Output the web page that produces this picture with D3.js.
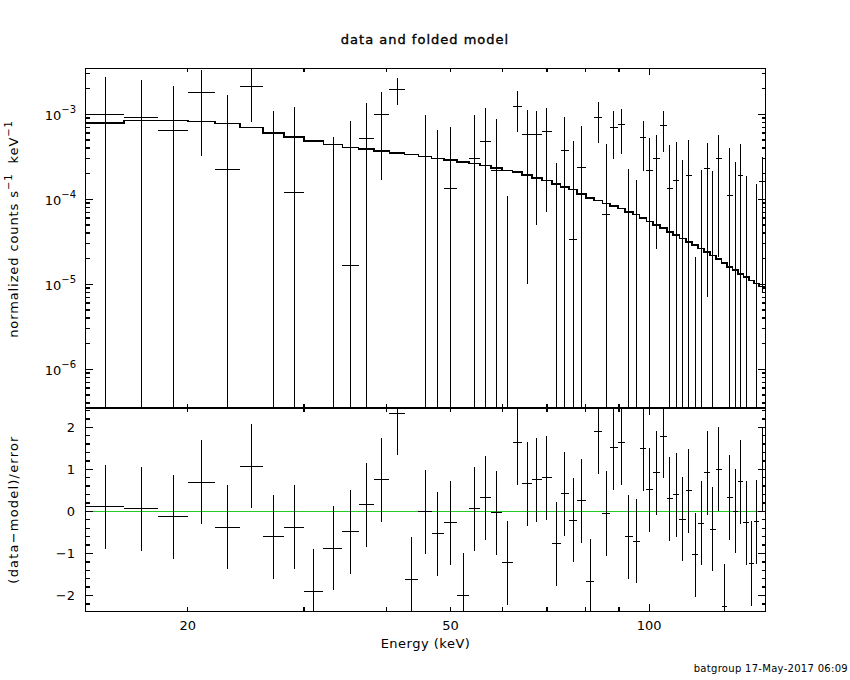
<!DOCTYPE html>
<html>
<head>
<meta charset="utf-8">
<script src="https://cdn.jsdelivr.net/npm/d3@7"></script>
<style>
  body { margin: 0; background: #fff; }
  svg { display: block; }
  text { font-family: "DejaVu Sans", "Liberation Sans", sans-serif; fill: #000; }
</style>
</head>
<body>
<svg id="chart" width="850" height="680"></svg>
<script>
// Energy bin edges (keV), 59 bins
const edges = [14, 16, 18, 20, 22, 24, 26, 28, 30, 32.1, 34.3, 36.3, 38.3, 40.4, 42.6, 44.7, 46.8, 48.9,
  51.2, 53.3, 55.4, 57.6, 59.8, 62.1, 64.2, 66.4, 68.8, 71.2, 73.4, 75.6, 77.8, 80.2, 82.5, 84.9, 87.2, 89.6,
  91.9, 94.4, 96.7, 99.0, 101.4, 103.8, 106.3, 108.7, 111.1, 113.6, 116.1, 118.6, 121.1, 123.6, 126.2, 128.7,
  131.1, 133.7, 136.3, 138.9, 141.5, 144.0, 146.7, 150];

// normalized counts s^-1 keV^-1 (negative = below plot)
const rate = [1.0e-3, 9.2e-4, 6.5e-4, 1.82e-3, 2.25e-4, 2.13e-3, -1.4e-4, 1.21e-4, -1.4e-3, -3.1e-4,
  1.67e-5, 5.17e-4, 1.0e-3, 1.97e-3, -8.0e-4, 3.15e-4, -9.2e-5, 1.35e-4, -9.25e-4, 3.03e-4,
  4.81e-4, 2.2e-4, -3.9e-4, 1.25e-3, 5.7e-4, 5.7e-4, 6.3e-4, -2.35e-4, 3.77e-4, 3.38e-5,
  2.38e-4, -6.4e-4, 9.2e-4, 6.7e-5, 6.9e-4, 7.48e-4, -1.66e-4, -1.9e-4, 5.26e-4, 2.16e-4,
  2.98e-4, 7.28e-4, 1.32e-4, 1.64e-4, -2.6e-5, 1.88e-4, -2.39e-4, -4.9e-5, 2.33e-4, -1.25e-4,
  2.98e-4, -5.47e-4, 1.12e-4, 1.5e-5, 1.92e-4, -5.3e-5, -2.99e-4, -3.7e-5, 1.6e-4];

const rateErr = [1.75e-3, 1.59e-3, 1.5e-3, 1.5e-3, 1.46e-3, 1.31e-3, 1.23e-3, 1.1e-3, 1.0e-3, 8.5e-4,
  8.17e-4, 8.4e-4, 8.3e-4, 7.0e-4, 7.0e-4, 6.75e-4, 7.45e-4, 5.75e-4, 6.0e-4, 6.9e-4,
  7.1e-4, 6.6e-4, 5.0e-4, 6.3e-4, 5.6e-4, 5.2e-4, 5.6e-4, 5.0e-4, 5.5e-4, 4.5e-4,
  4.9e-4, 4.5e-4, 4.6e-4, 3.8e-4, 3.9e-4, 4.1e-4, 3.95e-4, 3.6e-4, 3.1e-4, 3.1e-4,
  2.72e-4, 3.7e-4, 3.0e-4, 3.08e-4, 3.18e-4, 3.15e-4, 2.6e-4, 2.68e-4, 2.26e-4, 3.42e-4,
  2.77e-4, 2.5e-4, 2.9e-4, 2.6e-4, 2.59e-4, 2.41e-4, 2.5e-4, 1.9e-4, 1.52e-4];

// folded model per bin
const model = [7.84e-4, 8.41e-4, 8.41e-4, 8.18e-4, 7.75e-4, 6.96e-4, 5.97e-4, 5.41e-4, 4.85e-4, 4.39e-4,
  4.05e-4, 3.87e-4, 3.67e-4, 3.51e-4, 3.35e-4, 3.17e-4, 3.03e-4, 2.88e-4, 2.75e-4, 2.63e-4,
  2.49e-4, 2.33e-4, 2.19e-4, 2.08e-4, 1.92e-4, 1.78e-4, 1.66e-4, 1.51e-4, 1.40e-4, 1.30e-4,
  1.16e-4, 1.04e-4, 9.7e-5, 8.9e-5, 8.3e-5, 7.75e-5, 7.1e-5, 6.6e-5, 6.0e-5, 5.5e-5,
  5.0e-5, 4.6e-5, 4.1e-5, 3.77e-5, 3.44e-5, 3.15e-5, 2.88e-5, 2.62e-5, 2.40e-5, 2.19e-5,
  1.97e-5, 1.77e-5, 1.60e-5, 1.46e-5, 1.33e-5, 1.22e-5, 1.11e-5, 1.02e-5, 9.4e-6];

// (data-model)/error
const resid = [0.11, 0.06, -0.13, 0.69, -0.38, 1.08, -0.60, -0.38, -1.90, -0.88,
  -0.48, 0.16, 0.75, 2.34, -1.62, -0.01, -0.53, -0.27, -2.00, 0.06,
  0.32, -0.03, -1.22, 1.63, 0.66, 0.75, 0.80, -0.77, 0.42, -0.21,
  0.25, -1.66, 1.90, -0.05, 1.51, 1.63, -0.60, -0.71, 1.49, 0.51,
  0.92, 1.79, 0.30, 0.40, -0.19, 0.49, -1.03, -0.28, 0.92, -0.43,
  1.00, -2.26, 0.33, 0.00, 0.71, -0.27, -1.24, -0.25, 1.00];

const xTickLabels = [20, 50, 100];
const yTopDecades = [-6, -5, -4, -3];
const yResLabels = [-2, -1, 0, 1, 2];

const pLeft = 85.5, pRight = 765.5, pTop = 68, pMid = 408, pBottom = 611;
const yMin = 3.5e-7, yMax = 3.5e-3;

const svg = d3.select('#chart');
svg.append('rect').attr('width', 850).attr('height', 680).attr('fill', '#fff');

const x = d3.scaleLog().domain([14, 150]).range([pLeft, pRight]);
const yTop = d3.scaleLog().domain([yMin, yMax]).range([pMid, pTop]).clamp(true);
const yRes = d3.scaleLinear().domain([-2.37, 2.46]).range([pBottom, pMid]).clamp(true);
const yT = v => (v > 0 ? yTop(v) : pMid);

const bins = rate.map((r, i) => ({
  lo: edges[i], hi: edges[i + 1], c: (edges[i] + edges[i + 1]) / 2,
  r, e: rateErr[i], m: model[i], d: resid[i]
}));

const g = svg.append('g')
  .attr('shape-rendering', 'crispEdges')
  .attr('stroke', '#000')
  .attr('fill', 'none');

// Top panel: data error bars
bins.forEach(b => {
  if (b.r + b.e > yMin) {
    g.append('line')
      .attr('x1', x(b.c)).attr('x2', x(b.c))
      .attr('y1', yT(b.r - b.e)).attr('y2', yT(b.r + b.e))
      .attr('stroke-width', 1);
  }
  if (b.r >= yMin && b.r <= yMax) {
    g.append('line')
      .attr('x1', x(b.lo)).attr('x2', x(b.hi))
      .attr('y1', yTop(b.r)).attr('y2', yTop(b.r))
      .attr('stroke-width', 1);
  }
});

// Folded model, stepped
const steps = [];
bins.forEach(b => { steps.push([b.lo, b.m]); steps.push([b.hi, b.m]); });
g.append('path')
  .attr('d', d3.line().x(d => x(d[0])).y(d => yTop(d[1]))(steps))
  .attr('stroke-width', 1.6);

// Bottom panel: zero line and residuals
g.append('line')
  .attr('x1', pLeft).attr('x2', pRight)
  .attr('y1', yRes(0)).attr('y2', yRes(0))
  .attr('stroke', '#22cc22').attr('stroke-width', 1);

bins.forEach(b => {
  g.append('line')
    .attr('x1', x(b.c)).attr('x2', x(b.c))
    .attr('y1', yRes(b.d - 1)).attr('y2', yRes(b.d + 1))
    .attr('stroke-width', 1);
  g.append('line')
    .attr('x1', x(b.lo)).attr('x2', x(b.hi))
    .attr('y1', yRes(b.d)).attr('y2', yRes(b.d))
    .attr('stroke-width', 1);
});

// Frames
g.append('rect').attr('x', pLeft).attr('y', pTop)
  .attr('width', pRight - pLeft).attr('height', pMid - pTop).attr('stroke-width', 1);
g.append('rect').attr('x', pLeft).attr('y', pMid)
  .attr('width', pRight - pLeft).attr('height', pBottom - pMid).attr('stroke-width', 1);
g.append('line').attr('x1', pLeft).attr('x2', pRight)
  .attr('y1', pMid).attr('y2', pMid).attr('stroke-width', 2);

// Ticks (inside, all four sides)
const tickG = g.append('g').attr('stroke-width', 1.4);
const xTicks = [20, 30, 40, 50, 60, 70, 80, 90, 100];
xTicks.forEach(v => {
  const len = v === 100 ? 7 : 4;
  [[pTop, 1], [pMid, -1], [pMid, 1], [pBottom, -1]].forEach(([yy, dir]) => {
    tickG.append('line')
      .attr('x1', x(v)).attr('x2', x(v))
      .attr('y1', yy).attr('y2', yy + dir * len);
  });
});

const yTopTicks = [];
for (let p = -7; p <= -3; p++) {
  for (let k = 1; k <= 9; k++) {
    const v = k * Math.pow(10, p);
    if (v >= yMin && v <= yMax) yTopTicks.push({ v, major: k === 1 });
  }
}
yTopTicks.forEach(t => {
  const len = t.major ? 7.5 : 4;
  const yy = yTop(t.v);
  tickG.append('line').attr('x1', pLeft).attr('x2', pLeft + len).attr('y1', yy).attr('y2', yy);
  tickG.append('line').attr('x1', pRight).attr('x2', pRight - len).attr('y1', yy).attr('y2', yy);
});

d3.range(-22, 25, 2).map(v => v / 10).forEach(v => {
  const major = Math.abs(v - Math.round(v)) < 1e-9;
  const len = major ? 7.5 : 4;
  const yy = yRes(v);
  tickG.append('line').attr('x1', pLeft).attr('x2', pLeft + len).attr('y1', yy).attr('y2', yy);
  tickG.append('line').attr('x1', pRight).attr('x2', pRight - len).attr('y1', yy).attr('y2', yy);
});

// Tick labels
yTopDecades.forEach(p => {
  const t = svg.append('text')
    .attr('x', 76)
    .attr('y', yTop(Math.pow(10, p)) + 5.5)
    .attr('text-anchor', 'end')
    .attr('font-size', '13px');
  t.append('tspan').text('10');
  t.append('tspan').attr('dy', -7).attr('font-size', '10px').text('\u2212' + Math.abs(p));
});

yResLabels.forEach(v => {
  svg.append('text')
    .attr('x', 75)
    .attr('y', yRes(v) + 5)
    .attr('text-anchor', 'end')
    .attr('font-size', '13px')
    .text(v < 0 ? '\u2212' + Math.abs(v) : String(v));
});

xTickLabels.forEach(v => {
  svg.append('text')
    .attr('x', x(v))
    .attr('y', 630)
    .attr('text-anchor', 'middle')
    .attr('font-size', '13px')
    .text(v);
});

// Axis titles
svg.append('text')
  .attr('x', (pLeft + pRight) / 2).attr('y', 648)
  .attr('text-anchor', 'middle').attr('font-size', '13px')
  .attr('letter-spacing', '0.5px')
  .text('Energy (keV)');

const yl = svg.append('text')
  .attr('transform', 'translate(18,229) rotate(-90)')
  .attr('text-anchor', 'middle').attr('font-size', '13px')
  .attr('letter-spacing', '0.9px');
yl.append('tspan').text('normalized counts s');
yl.append('tspan').attr('dy', -6).attr('font-size', '10px').text('\u22121');
yl.append('tspan').attr('dy', 6).text('\u00a0\u00a0keV');
yl.append('tspan').attr('dy', -6).attr('font-size', '10px').text('\u22121');

svg.append('text')
  .attr('transform', `translate(18,${(pMid + pBottom) / 2}) rotate(-90)`)
  .attr('text-anchor', 'middle').attr('font-size', '13px')
  .attr('letter-spacing', '1.2px')
  .text('(data\u2212model)/error');

// Title and footer
svg.append('text')
  .attr('x', 425).attr('y', 44)
  .attr('text-anchor', 'middle').attr('font-size', '13px')
  .attr('font-family', '"DejaVu Serif", "Liberation Serif", serif')
  .attr('letter-spacing', '1px')
  .attr('stroke', '#000').attr('stroke-width', 0.35)
  .text('data and folded model');

svg.append('text')
  .attr('x', 848).attr('y', 672)
  .attr('text-anchor', 'end').attr('font-size', '10px')
  .attr('letter-spacing', '0.3px')
  .text('batgroup 17-May-2017 06:09');
</script>
</body>
</html>
